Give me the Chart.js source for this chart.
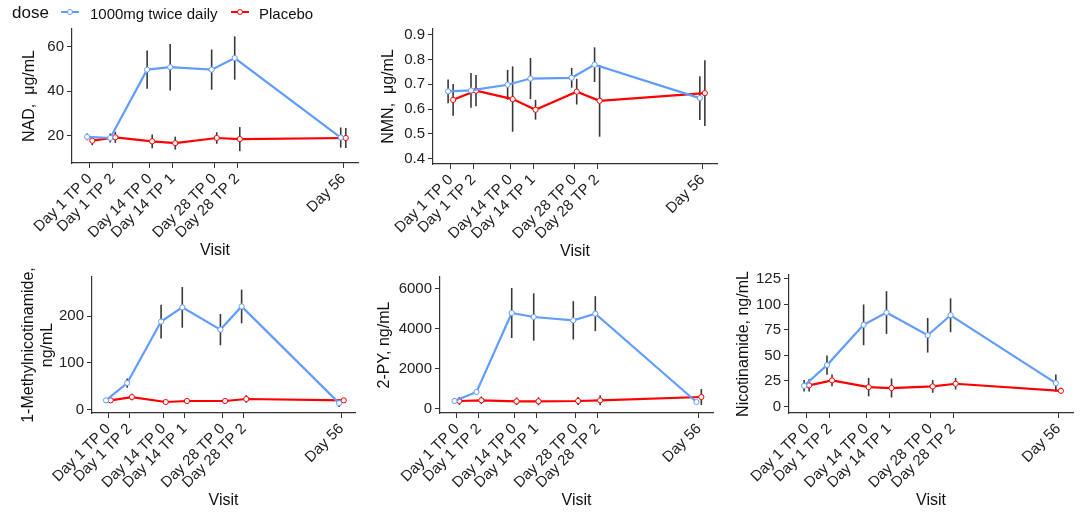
<!DOCTYPE html>
<html>
<head>
<meta charset="utf-8">
<script src="https://cdn.jsdelivr.net/npm/chart.js@4.4.1/dist/chart.umd.min.js"></script>
<style>
  html, body { margin: 0; padding: 0; background: #fff; }
  body { width: 1080px; height: 521px; position: relative; overflow: hidden; font-family: "Liberation Sans", Arial, sans-serif; }
  canvas { position: absolute; }
  #legend { position: absolute; left: 0; top: 0; height: 26px; width: 400px; z-index: 5; }
  #legend span { position: absolute; top: 50%; transform: translateY(-50%); white-space: nowrap; color: #111; }
  #legend svg { position: absolute; top: 7px; }
</style>
</head>
<body>
<div id="legend">
  <span style="left:12px; font-size:17px;">dose</span>
  <svg style="left:61px" width="18" height="10"><line x1="0" y1="5" x2="18" y2="5" stroke="#619CFF" stroke-width="2"/><circle cx="9" cy="5" r="2.5" fill="#fff" stroke="#619CFF" stroke-width="1"/></svg>
  <span style="left:90px; font-size:15px;">1000mg twice daily</span>
  <svg style="left:231px" width="18" height="10"><line x1="0" y1="5" x2="18" y2="5" stroke="#FF0000" stroke-width="2"/><circle cx="9" cy="5" r="2.5" fill="#fff" stroke="#FF0000" stroke-width="1"/></svg>
  <span style="left:259px; font-size:15px;">Placebo</span>
</div>
<canvas id="c1"></canvas>
<canvas id="c2"></canvas>
<canvas id="c3"></canvas>
<canvas id="c4"></canvas>
<canvas id="c5"></canvas>
<script>
// ---------- data ----------
const visits = ["Day 1 TP 0", "Day 1 TP 2", "Day 14 TP 0", "Day 14 TP 1", "Day 28 TP 0", "Day 28 TP 2", "Day 56"];
const visitDays = [1, 6, 14, 19, 28, 33, 56];
const seriesNames = ["1000mg twice daily", "Placebo"];

const nadDoseMean = [19.5, 19.0, 49.6, 50.7, 49.6, 54.8, 19.2];
const nadDoseErr = [1.5, 2.0, 8.6, 10.4, 9.0, 9.7, 4.5];
const nadPlaceboMean = [17.8, 19.3, 17.5, 16.7, 19.0, 18.5, 19.0];
const nadPlaceboErr = [2.0, 2.5, 3.1, 2.9, 2.6, 5.4, 4.5];
const nadTicks = [20, 40, 60];

const nmnDoseMean = [0.671, 0.675, 0.698, 0.723, 0.726, 0.779, 0.644];
const nmnDoseErr = [0.048, 0.070, 0.060, 0.083, 0.040, 0.070, 0.088];
const nmnPlaceboMean = [0.637, 0.674, 0.640, 0.597, 0.670, 0.633, 0.664];
const nmnPlaceboErr = [0.064, 0.063, 0.132, 0.040, 0.052, 0.145, 0.133];
const nmnTicks = [0.4, 0.5, 0.6, 0.7, 0.8, 0.9];

const mnaDoseMean = [20, 57, 188.6, 219, 171.4, 221, 14];
const mnaDoseErr = [3, 10, 36, 43.5, 33.5, 36, 8];
const mnaPlaceboMean = [20, 27, 16.4, 18.6, 18.6, 22.9, 20];
const mnaPlaceboErr = [3, 7, 3, 4, 4, 8, 5];
const mnaTicks = [0, 100, 200];

const pyDoseMean = [383, 833, 4783, 4583, 4417, 4750, 333];
const pyDoseErr = [150, 120, 1250, 1183, 958, 875, 100];
const pyPlaceboMean = [383, 417, 367, 367, 383, 417, 583];
const pyPlaceboErr = [190, 190, 190, 200, 200, 250, 400];
const pyTicks = [0, 2000, 4000, 6000];

const namDoseMean = [20.2, 40.5, 80, 92, 69.8, 89.4, 22.8];
const namDoseErr = [5.7, 9.5, 20, 21, 17, 16.6, 8.5];
const namPlaceboMean = [20.6, 25.5, 18.9, 18, 19.6, 22.2, 15.3];
const namPlaceboErr = [6, 5.7, 9, 9.3, 6.2, 5.7, 3];
const namTicks = [0, 25, 50, 75, 100, 125];

// ---------- styling ----------
const FONT = "'Liberation Sans', Arial, sans-serif";
const BLUE = "#619CFF";
const RED = "#FF0000";
const DODGE = 0.55;
const PT = 14, HX = 97;

const errorBarPlugin = {
  id: 'errorBars',
  beforeDatasetsDraw(chart) {
    const ctx = chart.ctx;
    const y = chart.scales.y;
    ctx.save();
    ctx.strokeStyle = "rgba(45,45,45,0.95)";
    ctx.lineWidth = 1.6;
    chart.data.datasets.forEach((ds, i) => {
      const meta = chart.getDatasetMeta(i);
      ds.data.forEach((p, j) => {
        const e = ds.errors[j];
        const px = meta.data[j].x;
        ctx.beginPath();
        ctx.moveTo(px, y.getPixelForValue(p.y - e));
        ctx.lineTo(px, y.getPixelForValue(p.y + e));
        ctx.stroke();
      });
    });
    ctx.restore();
  }
};

function makePanel(id, cfg) {
  const cv = document.getElementById(id);
  const w = (cfg.r - cfg.l) + cfg.wy + cfg.pr;
  const h = (cfg.b - cfg.t) + PT + HX;
  cv.style.left = (cfg.l - cfg.wy) + "px";
  cv.style.top = (cfg.t - PT) + "px";
  cv.width = w; cv.height = h;
  cv.style.width = w + "px"; cv.style.height = h + "px";
  const mk = (mean, err, color, off, name) => ({
    label: name,
    data: visitDays.map((d, k) => ({ x: d + off, y: mean[k] })),
    errors: err,
    borderColor: color,
    backgroundColor: "#fff",
    borderWidth: 2.2,
    pointRadius: 2.6,
    pointBorderWidth: 1,
    pointBorderColor: color,
    pointBackgroundColor: "#fff",
    tension: 0,
    clip: false
  });
  new Chart(cv, {
    type: 'line',
    data: {
      datasets: [
        mk(cfg.dose, cfg.doseErr, BLUE, -DODGE, seriesNames[0]),
        mk(cfg.plac, cfg.placErr, RED, DODGE, seriesNames[1])
      ]
    },
    options: {
      responsive: false,
      animation: false,
      devicePixelRatio: 1,
      layout: { padding: { top: PT, right: cfg.pr, left: 0, bottom: 0 } },
      plugins: { legend: { display: false }, tooltip: { enabled: false } },
      scales: {
        x: {
          type: 'linear',
          min: -2.85, max: 59.2,
          afterBuildTicks: (s) => { s.ticks = visitDays.map(v => ({ value: v })); },
          afterFit: (s) => { s.height = HX; },
          grid: { display: true, drawOnChartArea: false, drawTicks: true, tickLength: 5, color: "#333", lineWidth: 1 },
          border: { display: true, color: "#333", width: 1.2 },
          ticks: {
            autoSkip: false, minRotation: 45, maxRotation: 45, padding: 2,
            color: "#222", font: { family: FONT, size: 15 },
            callback: (v, i) => visits[i]
          },
          title: { display: true, text: "Visit", color: "#111", font: { family: FONT, size: 16 }, padding: { top: 0, bottom: 0 } }
        },
        y: {
          type: 'linear',
          min: cfg.ymin, max: cfg.ymax,
          afterBuildTicks: (s) => { s.ticks = cfg.ticks.map(v => ({ value: v })); },
          afterFit: (s) => { s.width = cfg.wy; },
          grid: { display: true, drawOnChartArea: false, drawTicks: true, tickLength: 5, color: "#333", lineWidth: 1 },
          border: { display: true, color: "#333", width: 1.2 },
          ticks: {
            padding: 3, color: "#222", font: { family: FONT, size: 15 },
            callback: (v) => String(v)
          },
          title: { display: true, text: cfg.title, color: "#111", font: { family: FONT, size: 16 }, padding: { top: cfg.tp, bottom: 0 } }
        }
      }
    },
    plugins: [errorBarPlugin]
  });
}

makePanel('c1', { l: 72, r: 358, t: 29, b: 163, wy: 72, pr: 12, tp: 20,
  ymin: 7.8, ymax: 67.8, ticks: nadTicks, title: "NAD,  \u03bcg/mL",
  dose: nadDoseMean, doseErr: nadDoseErr, plac: nadPlaceboMean, placErr: nadPlaceboErr });
makePanel('c2', { l: 433, r: 717, t: 29, b: 164, wy: 62, pr: 12, tp: 8,
  ymin: 0.378, ymax: 0.923, ticks: nmnTicks, title: "NMN,  \u03bcg/mL",
  dose: nmnDoseMean, doseErr: nmnDoseErr, plac: nmnPlaceboMean, placErr: nmnPlaceboErr });
makePanel('c3', { l: 92, r: 355, t: 277, b: 413, wy: 92, pr: 12, tp: 19,
  ymin: -7.1, ymax: 284, ticks: mnaTicks, title: ["1-Methylnicotinamide,", "ng/mL"],
  dose: mnaDoseMean, doseErr: mnaDoseErr, plac: mnaPlaceboMean, placErr: mnaPlaceboErr });
makePanel('c4', { l: 440, r: 713, t: 277, b: 413, wy: 70, pr: 12, tp: 5,
  ymin: -217, ymax: 6583, ticks: pyTicks, title: "2-PY, ng/mL",
  dose: pyDoseMean, doseErr: pyDoseErr, plac: pyPlaceboMean, placErr: pyPlaceboErr });
makePanel('c5', { l: 789, r: 1073, t: 275, b: 413, wy: 60, pr: 7, tp: 5,
  ymin: -6.5, ymax: 128.9, ticks: namTicks, title: "Nicotinamide, ng/mL",
  dose: namDoseMean, doseErr: namDoseErr, plac: namPlaceboMean, placErr: namPlaceboErr });
</script>
</body>
</html>
